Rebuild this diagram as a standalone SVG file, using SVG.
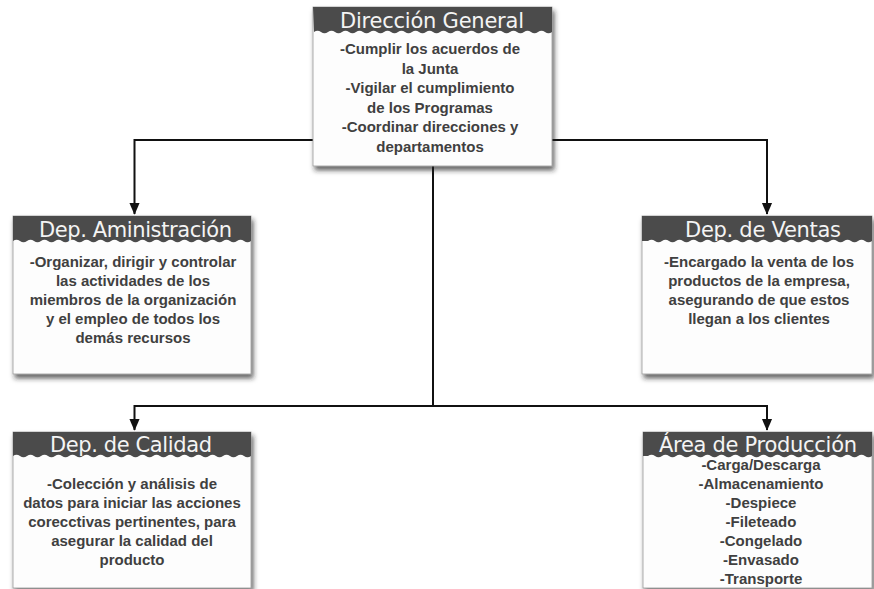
<svg xmlns="http://www.w3.org/2000/svg" width="874" height="589" viewBox="0 0 874 589">
<defs>
<filter id="sh" x="-10%" y="-10%" width="125%" height="130%">
<feDropShadow dx="2" dy="4" stdDeviation="2.5" flood-color="#222" flood-opacity="0.7"/>
</filter>
<marker id="arr" markerUnits="userSpaceOnUse" markerWidth="12" markerHeight="14" refX="13" refY="6" orient="auto" viewBox="0 0 14 12">
<path d="M0,0 L14,6 L0,12 z" fill="#111"/>
</marker>
<style>
.body{fill:#fdfdfd;stroke:#9a9a9a;stroke-width:0.8;filter:url(#sh)}
.head{fill:#4b4b4b}
.ht{font-family:"DejaVu Sans",sans-serif;font-size:21px;fill:#f4f4f4;text-anchor:middle}
.bt{font-family:"Liberation Sans",Arial,sans-serif;font-size:15px;font-weight:bold;fill:#404040;text-anchor:middle}
.con{fill:none;stroke:#111;stroke-width:2}
</style>
</defs>
<rect width="874" height="589" fill="#ffffff"/>

<g id="connectors">
<path class="con" d="M313,140 H134.5 V214" marker-end="url(#arr)"/>
<path class="con" d="M552,140 H767 V214" marker-end="url(#arr)"/>
<path class="con" d="M433,166 V406"/>
<path class="con" d="M433,406 H134.5 V430" marker-end="url(#arr)"/>
<path class="con" d="M433,406 H767 V430" marker-end="url(#arr)"/>
</g>

<g id="direccion-general">
<rect class="body" x="313" y="7" width="239" height="159"/>
<path class="head" d="M313,7 H552 V32 q-3.5,2.5 -7,0 t-7,0 t-7,0 t-7,0 t-7,0 t-7,0 t-7,0 t-7,0 t-7,0 t-7,0 t-7,0 t-7,0 t-7,0 t-7,0 t-7,0 t-7,0 t-7,0 t-7,0 t-7,0 t-7,0 t-7,0 t-7,0 t-7,0 t-7,0 t-7,0 t-7,0 t-7,0 t-7,0 t-7,0 t-7,0 t-7,0 t-7,0 t-7,0 t-7,0 Z"/>
<text class="ht" x="432" y="28" textLength="184">Dirección General</text>
<text class="bt" x="430" y="54">-Cumplir los acuerdos de</text>
<text class="bt" x="430" y="73.5">la Junta</text>
<text class="bt" x="430" y="93">-Vigilar el cumplimiento</text>
<text class="bt" x="430" y="112.5">de los Programas</text>
<text class="bt" x="430" y="132">-Coordinar direcciones y</text>
<text class="bt" x="430" y="151.5">departamentos</text>
</g>

<g id="dep-administracion">
<rect class="body" x="13" y="216" width="238" height="158"/>
<path class="head" d="M13,216 H251 V241 q-3.5,2.5 -7,0 t-7,0 t-7,0 t-7,0 t-7,0 t-7,0 t-7,0 t-7,0 t-7,0 t-7,0 t-7,0 t-7,0 t-7,0 t-7,0 t-7,0 t-7,0 t-7,0 t-7,0 t-7,0 t-7,0 t-7,0 t-7,0 t-7,0 t-7,0 t-7,0 t-7,0 t-7,0 t-7,0 t-7,0 t-7,0 t-7,0 t-7,0 t-7,0 t-7,0 Z"/>
<text class="ht" x="135.5" y="237" textLength="193">Dep. Aministración</text>
<text class="bt" x="133" y="267">-Organizar, dirigir y controlar</text>
<text class="bt" x="133" y="286">las actividades de los</text>
<text class="bt" x="133" y="305">miembros de la organización</text>
<text class="bt" x="133" y="324">y el empleo de todos los</text>
<text class="bt" x="133" y="343">demás recursos</text>
</g>

<g id="dep-ventas">
<rect class="body" x="642" y="216" width="230" height="158"/>
<path class="head" d="M642,216 H872 V241 q-3.5,2.5 -7,0 t-7,0 t-7,0 t-7,0 t-7,0 t-7,0 t-7,0 t-7,0 t-7,0 t-7,0 t-7,0 t-7,0 t-7,0 t-7,0 t-7,0 t-7,0 t-7,0 t-7,0 t-7,0 t-7,0 t-7,0 t-7,0 t-7,0 t-7,0 t-7,0 t-7,0 t-7,0 t-7,0 t-7,0 t-7,0 t-7,0 t-7,0 L642,241 Z"/>
<text class="ht" x="763" y="237" textLength="156">Dep. de Ventas</text>
<text class="bt" x="759" y="267">-Encargado la venta de los</text>
<text class="bt" x="759" y="286">productos de la empresa,</text>
<text class="bt" x="759" y="305">asegurando de que estos</text>
<text class="bt" x="759" y="324">llegan a los clientes</text>
</g>

<g id="dep-calidad">
<rect class="body" x="13" y="432" width="238" height="156"/>
<path class="head" d="M13,432 H251 V456 q-3.5,2.5 -7,0 t-7,0 t-7,0 t-7,0 t-7,0 t-7,0 t-7,0 t-7,0 t-7,0 t-7,0 t-7,0 t-7,0 t-7,0 t-7,0 t-7,0 t-7,0 t-7,0 t-7,0 t-7,0 t-7,0 t-7,0 t-7,0 t-7,0 t-7,0 t-7,0 t-7,0 t-7,0 t-7,0 t-7,0 t-7,0 t-7,0 t-7,0 t-7,0 t-7,0 Z"/>
<text class="ht" x="131" y="452" textLength="162">Dep. de Calidad</text>
<text class="bt" x="132" y="489">-Colección y análisis de</text>
<text class="bt" x="132" y="508">datos para iniciar las acciones</text>
<text class="bt" x="132" y="527">corecctivas pertinentes, para</text>
<text class="bt" x="132" y="546">asegurar la calidad del</text>
<text class="bt" x="132" y="565">producto</text>
</g>

<g id="area-produccion">
<rect class="body" x="643" y="432" width="229" height="156"/>
<path class="head" d="M643,432 H872 V456 q-3.5,2.5 -7,0 t-7,0 t-7,0 t-7,0 t-7,0 t-7,0 t-7,0 t-7,0 t-7,0 t-7,0 t-7,0 t-7,0 t-7,0 t-7,0 t-7,0 t-7,0 t-7,0 t-7,0 t-7,0 t-7,0 t-7,0 t-7,0 t-7,0 t-7,0 t-7,0 t-7,0 t-7,0 t-7,0 t-7,0 t-7,0 t-7,0 t-7,0 L643,456 Z"/>
<text class="ht" x="758" y="452" textLength="198">Área de Producción</text>
<text class="bt" x="761" y="470">-Carga/Descarga</text>
<text class="bt" x="761" y="489">-Almacenamiento</text>
<text class="bt" x="761" y="508">-Despiece</text>
<text class="bt" x="761" y="527">-Fileteado</text>
<text class="bt" x="761" y="546">-Congelado</text>
<text class="bt" x="761" y="565">-Envasado</text>
<text class="bt" x="761" y="584">-Transporte</text>
</g>
</svg>
